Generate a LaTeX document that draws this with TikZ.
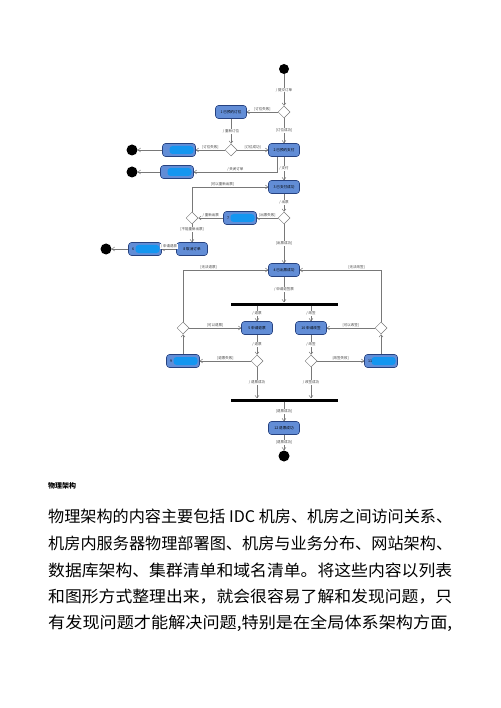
\documentclass[tikz,border=0pt]{standalone}
\usepackage{fontspec}
\usepackage{graphicx}
\setmainfont{Noto Sans CJK SC}
\usetikzlibrary{arrows.meta,positioning,shapes.geometric}
\definecolor{statefill}{RGB}{98,141,214}
\definecolor{stateline}{RGB}{38,66,128}
\definecolor{maskblue}{RGB}{20,150,240}
\definecolor{wiregray}{RGB}{120,120,120}
% one justified line of the body text
\newcommand\textline[1]{\resizebox{404pt}{\height}{#1}}
\tikzset{
  state/.style={draw=stateline, fill=statefill, rounded corners=3pt, line width=0.6pt,
              minimum width=31pt, minimum height=13pt, inner sep=1pt,
              font=\fontsize{3.6}{4}\selectfont, align=center},
  masked/.style={state, minimum width=33pt, text width=26pt, align=left,
              path picture={\fill[maskblue] ([xshift=7pt,yshift=2.5pt]path picture bounding box.south west)
                rectangle ([xshift=-2pt,yshift=-2.5pt]path picture bounding box.north east);}},
  choice/.style={diamond, draw=wiregray, fill=white, line width=0.5pt,
              minimum width=12pt, minimum height=12pt, inner sep=0pt},
  initial/.style={circle, fill=black, minimum size=10pt, inner sep=0pt},
  final/.style={circle, fill=black, minimum size=11pt, inner sep=0pt},
  bar/.style={rectangle, fill=black, minimum width=107pt, minimum height=3pt, inner sep=0pt},
  flow/.style={draw=wiregray, line width=0.5pt, -{Straight Barb[length=2.5pt,width=4pt]}},
  lab/.style={font=\fontsize{3.5}{4}\selectfont, fill=white, inner sep=0.6pt, text=black!75},
  para/.style={anchor=west, inner sep=0pt, font=\fontsize{16}{20}\selectfont},
}
\begin{document}
\begin{tikzpicture}[x=1pt,y=-1pt]
    \useasboundingbox (0,0) rectangle (500,708);
    % activity diagram
    \node[initial] (start) at (284,69) {};
    \node[choice] (d1) at (284,112) {};
    \node[state] (n1) at (231,112) {1 已预约订位};
    \node[state] (n2) at (284,150) {2 已预约支付};
    \node[choice] (d2) at (231,150) {};
    \node[masked] (m1) at (179,150) {};
    \node[final] (e1) at (132,150) {};
    \node[masked] (m2) at (177,172) {};
    \node[final] (e2) at (132,172) {};
    \node[state] (n3) at (284,187) {3 已支付成功};
    \node[choice] (d3) at (284,218) {};
    \node[masked] (n7) at (240,218) {7};
    \node[choice] (d4) at (192,218) {};
    \node[state] (n8) at (192,249) {8 取消订单};
    \node[masked] (m3) at (145,249) {6};
    \node[final] (e3) at (106,249) {};
    \node[state] (n4) at (284,270) {4 已出票成功};
    \node[bar] (fork) at (284,304) {};
    \node[state] (n5) at (257,328) {5 申请退票};
    \node[state] (n10) at (311,328) {10 申请改签};
    \node[choice] (d5) at (183,328) {};
    \node[choice] (d7) at (381,328) {};
    \node[choice] (d6) at (257,361) {};
    \node[choice] (d8) at (311,361) {};
    \node[masked] (m9) at (183,361) {9};
    \node[masked] (m11) at (381,361) {11};
    \node[bar] (join) at (284,400) {};
    \node[state] (n12) at (284,428) {12 退票成功};
    \node[final] (stop) at (284,456) {};
    % transitions
    \draw[flow] (start) -- node[lab]{/ 提交订单} (d1);
    \draw[flow] (d1) -- node[lab,above]{[订位失败]} (n1);
    \draw[flow] (d1) -- node[lab]{[订位成功]} (n2);
    \draw[flow] (n1) -- node[lab]{/ 重新订位} (d2);
    \draw[flow] (d2) -- node[lab,above]{[订位失败]} (m1);
    \draw[flow] (m1) -- (e1);
    \draw[flow] (d2) -- node[lab,above]{[订位成功]} (n2);
    \draw[flow] (n2) -- node[lab]{/ 支付} (n3);
    \draw[flow] ([xshift=-7pt]n2.south) |- node[lab,above,pos=0.75]{/ 关闭订单} (m2);
    \draw[flow] (m2) -- (e2);
    \draw[flow] (n3) -- node[lab]{/ 出票} (d3);
    \draw[flow] (d3) -- node[lab,above]{[出票失败]} (n7);
    \draw[flow] (n7) -- node[lab,above]{/ 重新出票} (d4);
    \draw[flow] (d4) |- node[lab,above,pos=0.7]{[可以重新出票]} (n3);
    \draw[flow] (d4) -- node[lab,pos=0.3]{[不能重新出票]} (n8);
    \draw[flow] (n8) -- node[lab,above]{/ 申请退款} (m3);
    \draw[flow] (m3) -- (e3);
    \draw[flow] (d3) -- node[lab]{[出票成功]} (n4);
    \draw[flow] (n4) -- node[lab]{/ 申请退签票} (fork);
    \draw[flow] (fork.south -| n5) -- node[lab]{/ 退票} (n5);
    \draw[flow] (fork.south -| n10) -- node[lab]{/ 改签} (n10);
    \draw[flow] (d5) -- node[lab,above]{[可以退票]} (n5);
    \draw[flow] (d5) |- node[lab,above,pos=0.65]{[无法退票]} (n4);
    \draw[flow] (n5) -- node[lab]{/ 退票} (d6);
    \draw[flow] (d6) -- node[lab,above]{[退票失败]} (m9);
    \draw[flow] (m9) -- (d5);
    \draw[flow] (d6) -- node[lab]{/ 退票成功} (d6 |- join.north);
    \draw[flow] (d7) -- node[lab,above]{[可以改签]} (n10);
    \draw[flow] (d7) |- node[lab,above,pos=0.65]{[无法改签]} (n4);
    \draw[flow] (n10) -- node[lab]{/ 改签} (d8);
    \draw[flow] (d8) -- node[lab,above]{[改签失败]} (m11);
    \draw[flow] (m11) -- (d7);
    \draw[flow] (d8) -- node[lab]{/ 改签成功} (d8 |- join.north);
    \draw[flow] (join) -- node[lab]{[退票成功]} (n12);
    \draw[flow] (n12) -- node[lab]{[退票成功]} (stop);
    % caption and body text
    \node[anchor=west, inner sep=0pt, font=\fontsize{7}{8}\selectfont\bfseries] (cap) at (48,486) {物理架构};
    \node[para] (l1) at (48,516) {\textline{物理架构的内容主要包括 IDC 机房、机房之间访问关系、}};
    \node[para] (l2) at (48,543) {\textline{机房内服务器物理部署图、机房与业务分布、网站架构、}};
    \node[para] (l3) at (48,570) {\textline{数据库架构、集群清单和域名清单。将这些内容以列表}};
    \node[para] (l4) at (48,597) {\textline{和图形方式整理出来，就会很容易了解和发现问题，只}};
    \node[para] (l5) at (48,623) {\textline{有发现问题才能解决问题,特别是在全局体系架构方面,}};
\end{tikzpicture}
\end{document}
